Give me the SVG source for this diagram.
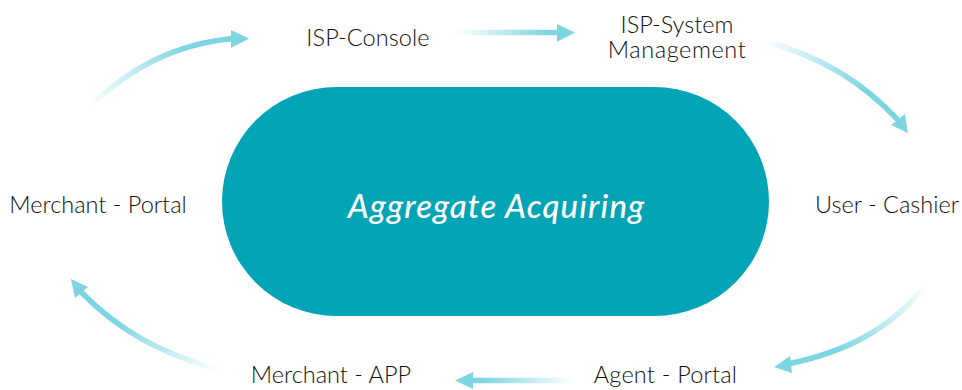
<svg xmlns="http://www.w3.org/2000/svg" width="962" height="390" viewBox="0 0 962 390">
<style>
.t{font-family:Lato,"Liberation Sans",sans-serif;font-weight:300;font-size:23.5px;fill:#111;text-anchor:middle}
.h{fill:#7ed5e2}
.l{fill:none;stroke-width:5.5}
</style>
<defs>
<linearGradient id="g1" gradientUnits="userSpaceOnUse" x1="90" y1="106" x2="232" y2="38"><stop offset="0" stop-color="#7ed5e2" stop-opacity="0"/><stop offset=".7" stop-color="#7ed5e2"/></linearGradient>
<linearGradient id="g2" gradientUnits="userSpaceOnUse" x1="456" y1="32" x2="558" y2="32"><stop offset="0" stop-color="#7ed5e2" stop-opacity="0"/><stop offset=".9" stop-color="#7ed5e2"/></linearGradient>
<linearGradient id="g3" gradientUnits="userSpaceOnUse" x1="763" y1="41" x2="900" y2="122"><stop offset="0" stop-color="#7ed5e2" stop-opacity="0"/><stop offset=".7" stop-color="#7ed5e2"/></linearGradient>
<linearGradient id="g4" gradientUnits="userSpaceOnUse" x1="927" y1="284" x2="790" y2="364"><stop offset="0" stop-color="#7ed5e2" stop-opacity="0"/><stop offset=".7" stop-color="#7ed5e2"/></linearGradient>
<linearGradient id="g5" gradientUnits="userSpaceOnUse" x1="575" y1="380" x2="472" y2="380"><stop offset="0" stop-color="#7ed5e2" stop-opacity="0"/><stop offset=".9" stop-color="#7ed5e2"/></linearGradient>
<linearGradient id="g6" gradientUnits="userSpaceOnUse" x1="218" y1="370" x2="80" y2="290"><stop offset="0" stop-color="#7ed5e2" stop-opacity="0"/><stop offset=".7" stop-color="#7ed5e2"/></linearGradient>
</defs>
<g id="connectors">
<path class="l" stroke="url(#g1)" d="M90 106C130 68 175 44 233 38.500"/><polygon class="h" points="231,30 249,38.500 231,48"/>
<path class="l" stroke="url(#g2)" d="M456 32.500H558"/><polygon class="h" points="557,24 575,32.500 557,42"/>
<path class="l" stroke="url(#g3)" d="M763 41C825 57 865 85 898 120"/><polygon class="h" points="905,114 908,133 891,125"/>
<path class="l" stroke="url(#g4)" d="M927 284C890 330 845 352 788 364"/><polygon class="h" points="790,356 774,367 792,373"/>
<path class="l" stroke="url(#g5)" d="M575 380.500H472"/><polygon class="h" points="473,372 455,380.500 473,389"/>
<path class="l" stroke="url(#g6)" d="M218 370C160 352 120 332 80 291"/><polygon class="h" points="88,287 71,279 75,298"/>
</g>
<g id="center"><rect x="222" y="87" width="547" height="229" rx="114.500" fill="#03a4b6"/><text x="496.500" y="218" font-family="Lato,'Liberation Sans',sans-serif" font-style="italic" font-weight="500" font-size="33" letter-spacing="1.100" fill="#fff" text-anchor="middle">Aggregate Acquiring</text></g>
<g id="isp-console"><text class="t" x="368" y="46" letter-spacing=".1">ISP-Console</text></g>
<g id="isp-system"><text class="t"><tspan x="677" y="33">ISP-System</tspan><tspan x="677" y="58" letter-spacing=".6">Management</tspan></text></g>
<g id="user-cashier"><text class="t" x="887" y="213">User - Cashier</text></g>
<g id="agent-portal"><text class="t" x="665.500" y="383" letter-spacing=".2">Agent - Portal</text></g>
<g id="merchant-app"><text class="t" x="331" y="383">Merchant - APP</text></g>
<g id="merchant-portal"><text class="t" x="98" y="213">Merchant - Portal</text></g>
</svg>
